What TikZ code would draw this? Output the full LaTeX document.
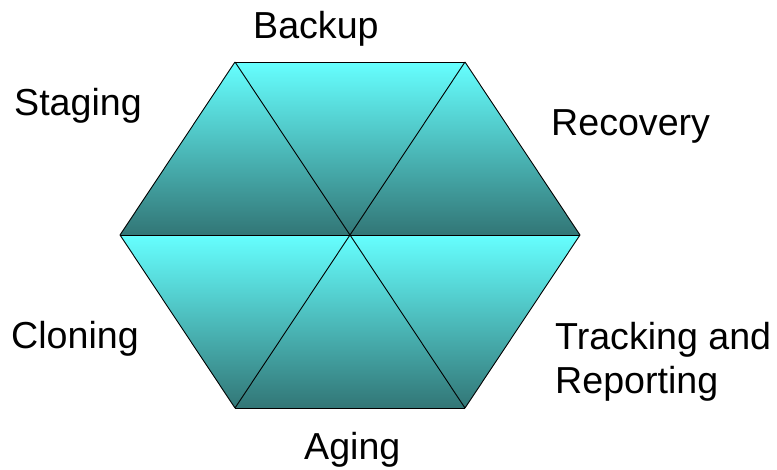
\documentclass[tikz,border=0pt]{standalone}
\usepackage{fontspec}
\setmainfont{Liberation Sans}
\definecolor{hexlight}{RGB}{102,255,255}
\definecolor{hexdark}{RGB}{50,118,118}

\begin{document}
\begin{tikzpicture}[x=1pt,y=-1pt,
		lbl/.style={anchor=base west,inner sep=0pt,align=left,font=\fontsize{37.6}{44}\selectfont},
		half/.style={top color=hexlight,bottom color=hexdark}]
			\useasboundingbox (0,0) rectangle (777,469);
			\coordinate (c) at (350,235);
			\coordinate (l) at (120,235);
			\coordinate (r) at (580,235);
			\coordinate (tl) at (235,62);
			\coordinate (tr) at (465,62);
			\coordinate (bl) at (235,408);
			\coordinate (br) at (465,408);
			
			\foreach \a/\b in {l/tl,tl/tr,tr/r,l/bl,bl/br,br/r}
				\shade[half] (c) -- (\a) -- (\b) -- cycle;
			
			\draw[line width=0.9pt] (l) edge (tl) (tl) edge (tr) (tr) edge (r)
				(r) edge (br) (br) edge (bl) (bl) edge (l);
			\draw[line width=0.9pt] (l) edge (r) (tl) edge (br) (tr) edge (bl);
			
			\node[lbl] (backup) at (253,38) {Backup};
			\node[lbl] (staging) at (14,115) {Staging};
			\node[lbl] (recovery) at (551,135) {Recovery};
			\node[lbl] (cloning) at (11,348) {Cloning};
			\node[lbl] (tracking) at (555,393) {Tracking and\\Reporting};
			\node[lbl] (aging) at (304,459) {Aging};
		\end{tikzpicture}
\end{document}
